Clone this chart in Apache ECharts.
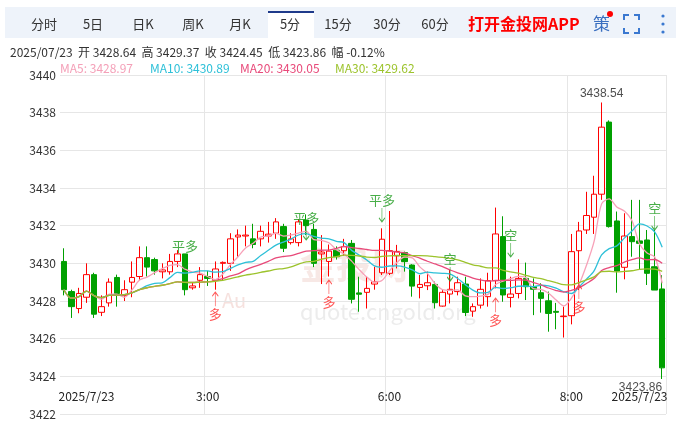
<!DOCTYPE html>
<html><head><meta charset="utf-8">
<script src="https://cdn.jsdelivr.net/npm/echarts@6/dist/echarts.min.js"></script>
<style>html,body{margin:0;padding:0;background:#fff}#c{width:681px;height:431px}</style>
</head><body><div id="c"></div>
<script>
// OHLC per 5-minute bar
const opens  = [3430.1,3428.5,3427.6,3428.2,3429.4,3427.4,3427.9,3429.25,3428.3,3429.0,3429.3,3430.3,3430.2,3429.55,3429.55,3430.1,3430.5,3428.7,3429.1,3429.3,3429.1,3430.0,3430.0,3431.4,3431.45,3431.3,3431.3,3431.45,3431.6,3431.95,3431.1,3431.1,3432.3,3431.8,3430.5,3430.1,3430.7,3430.67,3431.06,3428.43,3428.46,3428.9,3429.5,3429.47,3430.4,3430.57,3429.91,3428.72,3428.81,3428.88,3427.73,3428.37,3428.5,3428.9,3427.46,3427.78,3428.23,3429.08,3431.42,3428.19,3428.4,3429.2,3428.76,3428.44,3428.01,3427.45,3427.17,3427.22,3430.67,3431.77,3432.45,3433.67,3437.5,3432.25,3429.79,3431.42,3431.19,3431.24,3429.82,3428.64];
const closes = [3428.6,3427.7,3428.4,3429.4,3427.3,3427.7,3429.0,3428.4,3428.6,3429.25,3430.3,3429.8,3429.6,3429.65,3430.1,3430.5,3428.6,3428.8,3429.4,3429.2,3429.7,3430.05,3431.3,3431.5,3431.5,3431.0,3431.7,3431.55,3432.2,3430.8,3431.3,3432.2,3432.0,3430.0,3430.6,3430.65,3430.35,3430.89,3428.09,3428.36,3428.67,3429.02,3431.28,3430.67,3430.62,3430.09,3428.79,3428.88,3428.97,3427.91,3428.46,3428.62,3428.97,3427.39,3427.7,3428.62,3429.08,3431.56,3428.32,3428.37,3429.2,3428.76,3428.62,3428.14,3427.34,3427.4,3427.2,3430.62,3431.72,3432.54,3433.67,3437.23,3431.95,3429.59,3431.45,3431.15,3431.06,3429.47,3428.58,3424.45];
const highs  = [3430.8,3428.6,3428.7,3430.0,3429.5,3428.3,3429.2,3429.4,3429.1,3430.1,3430.9,3430.9,3430.3,3430.0,3430.5,3430.7,3430.5,3429.0,3429.8,3429.6,3430.1,3430.1,3431.6,3431.8,3432.0,3432.1,3432.0,3432.2,3432.4,3432.1,3431.6,3432.35,3432.6,3432.1,3431.5,3431.0,3430.9,3431.3,3431.24,3429.29,3429.29,3429.82,3431.86,3432.78,3430.98,3430.62,3429.95,3429.38,3429.56,3429.03,3428.58,3429.65,3429.29,3429.29,3427.87,3429.2,3429.5,3432.96,3432.5,3429.29,3430.21,3430.04,3429.2,3428.94,3428.5,3427.9,3427.7,3431.56,3432.2,3433.8,3434.65,3438.54,3437.59,3432.75,3432.66,3433.37,3433.37,3431.77,3431.77,3429.37];
const lows   = [3428.3,3427.1,3427.35,3427.9,3427.1,3427.2,3427.7,3427.7,3428.0,3428.2,3429.1,3429.3,3429.4,3429.2,3429.4,3429.8,3428.3,3428.6,3428.7,3428.8,3428.6,3429.1,3429.6,3430.35,3430.9,3430.8,3430.9,3431.1,3431.3,3430.6,3431.0,3430.9,3431.5,3429.8,3428.9,3429.3,3430.2,3430.4,3427.87,3427.43,3427.6,3428.6,3429.38,3429.38,3429.73,3429.56,3428.23,3428.14,3428.58,3427.6,3427.7,3427.87,3428.3,3427.2,3427.16,3427.6,3427.7,3428.67,3427.96,3427.66,3428.14,3428.05,3427.25,3427.38,3426.37,3426.5,3426.06,3426.76,3428.58,3431.56,3431.56,3433.37,3431.9,3428.44,3429.15,3430.35,3429.65,3428.85,3428.58,3423.86];
const timeLabels = {3:'2025/7/23',19:'3:00',43:'6:00',67:'8:00',76:'2025/7/23'};
const gridIdx = [19,43,67];
// signal marks: [index, arrow-tip price, text, side]
const signals = [[16,3429.75,'平多','top'],[32,3431.24,'平多','top'],[42,3432.2,'平多','top'],[51,3429.06,'空','top'],[59,3430.34,'空','top'],[78,3431.77,'空','top'],
                 [20,3428.47,'多','bottom'],[35,3429.11,'多','bottom'],[57,3428.15,'多','bottom'],[68,3428.85,'多','bottom']];

const cats = closes.map((_, i) => String(i));
const kdata = closes.map((c, i) => [opens[i], c, lows[i], highs[i]]);
function ma(n){return closes.map((_,i)=>{const s=Math.max(0,i-n+1);let t=0;for(let j=s;j<=i;j++)t+=closes[j];return +(t/(i-s+1)).toFixed(3);});}
const F = 'Noto Sans CJK SC';
const DOWN = 'path://M3,0 L3,14 M0,10 L3,14 L6,10';
const UP = 'path://M3,14 L3,0 M0,4 L3,0 L6,4';
const markPts = signals.map(([i,v,t,p]) => {
  const c = t !== '多' ? '#1a9a1a' : '#ff2a2a';
  return {value:[i, v], symbol: p==='top'?DOWN:UP, symbolSize:[6,14], symbolOffset:[0, p==='top'?-7:7],
    itemStyle:{color:'rgba(0,0,0,0)', borderColor:c, borderWidth:1},
    label:{show:true, position:p, distance:1, formatter:t, color:c, fontSize:13, fontFamily:F}};
});
markPts.push({value:[71,3438.54],symbolSize:1,itemStyle:{color:'rgba(0,0,0,0)'},label:{show:true,position:'top',distance:2,formatter:'3438.54',color:'#222',fontSize:12}});
markPts.push({value:[79,3423.86],symbolSize:1,itemStyle:{color:'rgba(0,0,0,0)'},label:{show:true,position:'bottom',distance:2,formatter:'3423.86',color:'#222',fontSize:12,align:'right',offset:[4,0]}});

const chart = echarts.init(document.getElementById('c'));
const tabs = [['分时',44],['5日',93],['日K',143],['周K',193],['月K',240],['5分',290],['15分',338],['30分',387],['60分',435]];
const g = [
 {type:'rect',shape:{x:5,y:7,width:671,height:31},style:{fill:'#eef3fa'},z:-1},
 {type:'rect',shape:{x:268,y:11,width:46,height:28},style:{fill:'#fff'},z:0},
 {type:'rect',shape:{x:268,y:11,width:46,height:2},style:{fill:'#1e3a8a'},z:1},
 {type:'text',x:468,y:24,style:{text:'打开金投网APP',fill:'#ff0000',font:'bold 16px '+F,textVerticalAlign:'middle'}},
 {type:'text',x:593,y:24,style:{text:'策',fill:'#3a6fc0',font:'17px '+F,textVerticalAlign:'middle'}},
 {type:'circle',shape:{cx:610,cy:14,r:3},style:{fill:'#ff0000'}},
 {type:'polyline',shape:{points:[[624,20],[624,15],[629,15]]},style:{stroke:'#3a78d0',lineWidth:2,fill:null}},
 {type:'polyline',shape:{points:[[634,15],[639,15],[639,20]]},style:{stroke:'#3a78d0',lineWidth:2,fill:null}},
 {type:'polyline',shape:{points:[[624,28],[624,33],[629,33]]},style:{stroke:'#3a78d0',lineWidth:2,fill:null}},
 {type:'polyline',shape:{points:[[634,33],[639,33],[639,28]]},style:{stroke:'#3a78d0',lineWidth:2,fill:null}},
 {type:'circle',shape:{cx:663,cy:16,r:1.6},style:{fill:'#3a78d0'}},
 {type:'circle',shape:{cx:663,cy:24,r:1.6},style:{fill:'#3a78d0'}},
 {type:'circle',shape:{cx:663,cy:32,r:1.6},style:{fill:'#3a78d0'}},
 {type:'text',x:10,y:52,style:{text:'2025/07/23  开 3428.64  高 3429.37  收 3424.45  低 3423.86  幅 -0.12%',fill:'#333',font:'12px '+F,textVerticalAlign:'middle'}},
 {type:'text',x:60,y:68,style:{text:'MA5: 3428.97',fill:'#f4a0b8',font:'12px '+F,textVerticalAlign:'middle'}},
 {type:'text',x:150,y:68,style:{text:'MA10: 3430.89',fill:'#2ec0d8',font:'12px '+F,textVerticalAlign:'middle'}},
 {type:'text',x:240,y:68,style:{text:'MA20: 3430.05',fill:'#e84a7a',font:'12px '+F,textVerticalAlign:'middle'}},
 {type:'text',x:335,y:68,style:{text:'MA30: 3429.62',fill:'#9cc32c',font:'12px '+F,textVerticalAlign:'middle'}},
 {type:'text',x:300,y:312,style:{text:'quote.cngold.org',fill:'rgba(200,200,200,0.35)',font:'22px '+F,textVerticalAlign:'middle'},z:-1},
 {type:'text',x:300,y:265,style:{text:'金投网',fill:'rgba(230,180,170,0.3)',font:'bold 36px '+F,textVerticalAlign:'middle'},z:-1},
 {type:'text',x:222,y:300,style:{text:'Au',fill:'rgba(230,170,160,0.35)',font:'20px '+F,textVerticalAlign:'middle'},z:-1},
];
tabs.forEach(([t,x])=>g.push({type:'text',x:x,y:24,style:{text:t,fill:'#333',font:'13px '+F,textAlign:'center',textVerticalAlign:'middle'}}));

chart.setOption({
  animation:false,
  graphic:g,
  grid:{left:60,right:15,top:75,bottom:17},
  xAxis:{type:'category',data:cats,boundaryGap:true,
    axisLine:{show:false},axisTick:{show:false},
    axisLabel:{inside:true,margin:12,interval:(i)=>i in timeLabels,formatter:(v,i)=>timeLabels[i]||'',color:'#222',fontSize:12,fontFamily:F},
    splitLine:{show:true,interval:(i)=>gridIdx.includes(i),lineStyle:{color:'#e6e6e6'}}},
  yAxis:{type:'value',min:3422,max:3440,interval:2,position:'left',
    axisLine:{show:false},axisTick:{show:false},
    axisLabel:{color:'#333',fontSize:12,margin:4,fontFamily:F,formatter:(v)=>String(v)},
    splitLine:{lineStyle:{color:'#e6e6e6'}}},
  series:[
    {type:'candlestick',data:kdata,barWidth:6,
      itemStyle:{color:'#ffffff',borderColor:'#ff0000',color0:'#00a000',borderColor0:'#00a000',borderWidth:1}},
    {type:'line',data:ma(5),symbol:'none',lineStyle:{color:'#f7a1b8',width:1.3},smooth:0.3},
    {type:'line',data:ma(10),symbol:'none',lineStyle:{color:'#2ec0d8',width:1.3},smooth:0.3},
    {type:'line',data:ma(20),symbol:'none',lineStyle:{color:'#e84a7a',width:1.3},smooth:0.3},
    {type:'line',data:ma(30),symbol:'none',lineStyle:{color:'#9cc32c',width:1.3},smooth:0.3},
    {type:'scatter',data:markPts,silent:true,z:10,labelLayout:{hideOverlap:false}}
  ]
});
</script></body></html>
